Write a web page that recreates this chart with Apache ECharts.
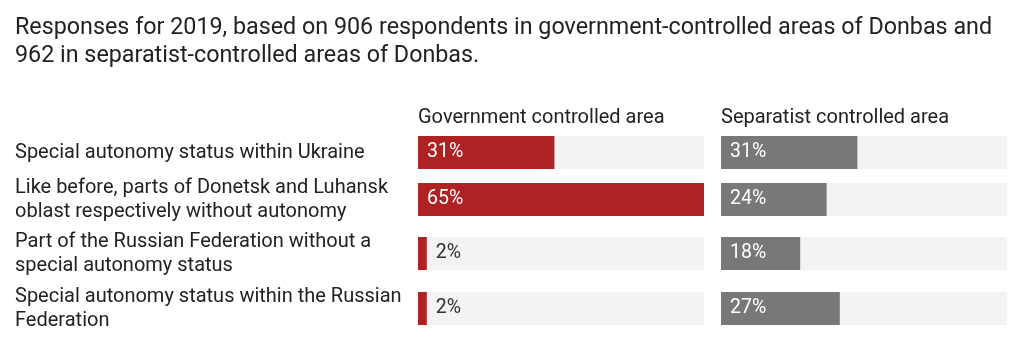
<!DOCTYPE html>
<html>
<head>
<meta charset="utf-8">
<script src="https://cdn.jsdelivr.net/npm/echarts@6/dist/echarts.min.js"></script>
<style>html,body{margin:0;padding:0;background:#fff}#c{width:1024px;height:345px}</style>
</head>
<body>
<div id="c"></div>
<script>
const titleText = 'Responses for 2019, based on 906 respondents in government-controlled areas of Donbas and\n962 in separatist-controlled areas of Donbas.';
const panelHeaders = ['Government controlled area', 'Separatist controlled area'];
const categories = [
  'Special autonomy status within Ukraine',
  'Like before, parts of Donetsk and Luhansk\noblast respectively without autonomy',
  'Part of the Russian Federation without a\nspecial autonomy status',
  'Special autonomy status within the Russian\nFederation'
];
const govValues = [31, 65, 2, 2];
const sepValues = [31, 24, 18, 27];
const axisMax = 65;

const FONT = 'Roboto';
const rowTops = [136, 183, 237, 292];
const rowH = 33;
const panels = [
  { left: 418, width: 286, color: '#ae2224', values: govValues },
  { left: 721, width: 286, color: '#787878', values: sepValues }
];

const grids = [], xAxes = [], yAxes = [], series = [];
panels.forEach((p, pi) => {
  rowTops.forEach((top, ri) => {
    const idx = grids.length;
    grids.push({ left: p.left, width: p.width, top: top, height: rowH });
    xAxes.push({ gridIndex: idx, type: 'value', min: 0, max: axisMax, show: false });
    yAxes.push({
      gridIndex: idx, type: 'category', data: [categories[ri]],
      axisLine: { show: false }, axisTick: { show: false }, splitLine: { show: false },
      axisLabel: {
        show: pi === 0, align: 'left', margin: p.left - 15,
        fontFamily: FONT, fontSize: 20, lineHeight: 24, color: '#222'
      }
    });
    const v = p.values[ri];
    const item = v < 10
      ? { value: v, label: { position: 'right', color: '#333', distance: 9 } }
      : v;
    series.push({
      type: 'bar', xAxisIndex: idx, yAxisIndex: idx,
      data: [item], barWidth: rowH,
      itemStyle: { color: p.color },
      showBackground: true, backgroundStyle: { color: '#f3f3f3' },
      label: {
        show: true, position: 'insideLeft', distance: 9, formatter: '{c}%',
        color: '#fff', fontFamily: FONT, fontSize: 19.5
      },
      silent: true, animation: false
    });
  });
});

const chart = echarts.init(document.getElementById('c'));
chart.setOption({
  backgroundColor: '#fff',
  animation: false,
  title: [
    { text: titleText, left: 10, top: 9,
      textStyle: { fontFamily: FONT, fontSize: 23.3, lineHeight: 28, fontWeight: 'normal', color: '#222' } },
    { text: panelHeaders[0], left: 413, top: 103,
      textStyle: { fontFamily: FONT, fontSize: 20, fontWeight: 'normal', color: '#222' } },
    { text: panelHeaders[1], left: 716, top: 103,
      textStyle: { fontFamily: FONT, fontSize: 20, fontWeight: 'normal', color: '#222' } }
  ],
  grid: grids, xAxis: xAxes, yAxis: yAxes, series: series
});
</script>
</body>
</html>
